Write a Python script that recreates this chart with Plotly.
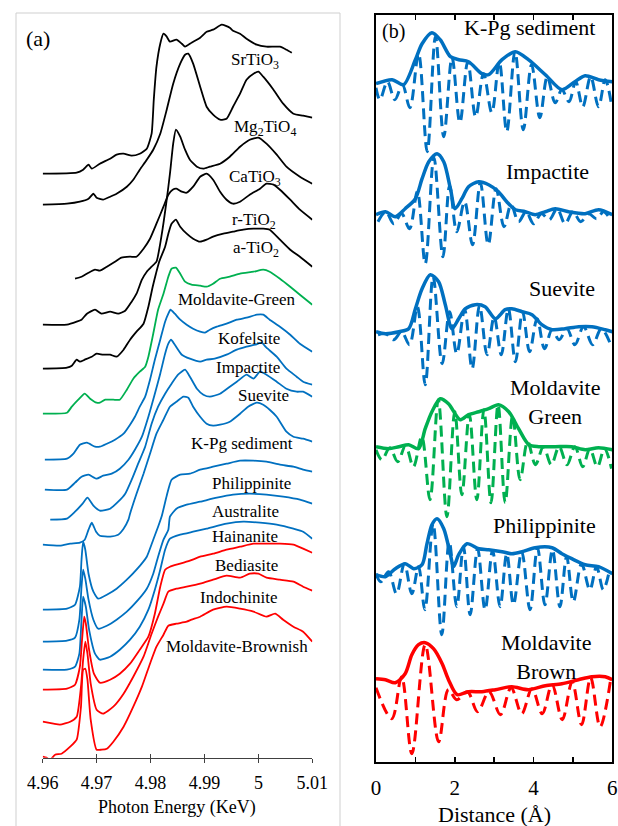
import plotly.graph_objects as go

W, H = 618, 826
SERIF = "Liberation Serif, Times New Roman, serif"
BLACK, GREEN, BLUE, RED = "#000000", "#00b050", "#0070c0", "#ff0000"

# ---------------- Panel (a): Ti K-edge XANES (normalized, offset) ----------------
E_srtio3 = [4.9600,4.9663,4.9675,4.9685,4.9691,4.9706,4.9725,4.9737,4.9750,4.9765,4.9780,4.9793,4.9802,4.9806,4.9811,4.9818,4.9824,4.9830,4.9836,4.9848,4.9858,4.9864,4.9876,4.9892,4.9904,4.9916,4.9932,4.9947,4.9953,4.9966,4.9978,4.9997,5.0015,5.0040,5.0052,5.0062]
A_srtio3 = [5.84,5.85,5.88,5.93,5.89,5.94,5.99,6.03,6.04,6.02,6.04,6.09,6.24,6.58,6.91,7.14,7.24,7.21,7.16,7.18,7.14,7.11,7.15,7.20,7.26,7.28,7.33,7.30,7.27,7.24,7.19,7.13,7.11,7.11,7.08,7.05]

E_mg2tio4 = [4.9600,4.9645,4.9669,4.9685,4.9694,4.9700,4.9712,4.9725,4.9737,4.9756,4.9768,4.9780,4.9793,4.9805,4.9818,4.9830,4.9842,4.9855,4.9864,4.9870,4.9879,4.9892,4.9904,4.9916,4.9929,4.9941,4.9953,4.9966,4.9978,4.9991,5.0000,5.0009,5.0028,5.0046,5.0065,5.0083,5.0100]
A_mg2tio4 = [5.53,5.54,5.56,5.59,5.64,5.60,5.58,5.61,5.64,5.71,5.78,5.88,5.98,6.08,6.24,6.48,6.74,6.94,7.03,7.04,6.94,6.71,6.51,6.43,6.38,6.39,6.51,6.64,6.78,6.84,6.86,6.81,6.68,6.54,6.44,6.42,6.40]

E_catio3 = [4.9600,4.9645,4.9663,4.9672,4.9682,4.9697,4.9709,4.9725,4.9740,4.9753,4.9765,4.9774,4.9784,4.9793,4.9802,4.9811,4.9821,4.9830,4.9836,4.9842,4.9847,4.9855,4.9864,4.9873,4.9886,4.9898,4.9910,4.9929,4.9947,4.9966,4.9984,5.0000,5.0015,5.0034,5.0052,5.0077,5.0100]
A_catio3 = [4.33,4.33,4.36,4.38,4.44,4.48,4.44,4.46,4.44,4.47,4.56,4.64,4.78,4.86,4.91,4.96,5.24,5.58,5.84,6.14,6.28,6.21,6.08,5.98,5.91,5.89,5.91,5.94,6.01,6.11,6.18,6.20,6.14,6.03,5.91,5.81,5.74]

E_rtio2 = [4.9660,4.9672,4.9685,4.9697,4.9706,4.9719,4.9734,4.9746,4.9762,4.9774,4.9787,4.9799,4.9811,4.9824,4.9833,4.9841,4.9848,4.9858,4.9867,4.9879,4.9892,4.9904,4.9916,4.9929,4.9941,4.9953,4.9966,4.9984,5.0003,5.0015,5.0028,5.0040,5.0059,5.0077,5.0100]
A_rtio2 = [4.79,4.81,4.85,4.88,4.87,4.91,4.96,5.00,5.01,5.01,5.09,5.19,5.34,5.51,5.63,5.68,5.69,5.66,5.65,5.71,5.81,5.84,5.78,5.66,5.58,5.54,5.56,5.63,5.69,5.74,5.73,5.68,5.58,5.48,5.38]

E_atio2 = [4.9600,4.9645,4.9654,4.9663,4.9669,4.9678,4.9691,4.9700,4.9712,4.9725,4.9737,4.9750,4.9762,4.9774,4.9787,4.9796,4.9804,4.9810,4.9816,4.9827,4.9833,4.9839,4.9847,4.9855,4.9867,4.9879,4.9892,4.9904,4.9916,4.9935,4.9953,4.9972,4.9991,5.0009,5.0021,5.0040,5.0059,5.0077,5.0100]
A_atio2 = [3.89,3.90,3.92,3.98,3.96,3.98,4.01,4.04,4.03,4.03,4.01,4.08,4.18,4.26,4.34,4.51,4.71,4.84,4.96,5.11,5.24,5.34,5.38,5.31,5.24,5.19,5.16,5.18,5.21,5.24,5.26,5.28,5.29,5.29,5.28,5.18,5.08,5.01,4.91]

E_mold_green = [4.9600,4.9645,4.9654,4.9666,4.9678,4.9688,4.9700,4.9706,4.9716,4.9731,4.9743,4.9756,4.9768,4.9780,4.9790,4.9796,4.9805,4.9814,4.9824,4.9833,4.9839,4.9847,4.9855,4.9864,4.9876,4.9892,4.9904,4.9916,4.9929,4.9947,4.9966,4.9991,5.0009,5.0021,5.0040,5.0059,5.0077,5.0100]
A_mold_green = [3.44,3.45,3.51,3.58,3.64,3.59,3.55,3.55,3.58,3.58,3.58,3.68,3.79,3.86,3.91,4.01,4.24,4.48,4.64,4.81,4.89,4.90,4.84,4.76,4.73,4.72,4.71,4.74,4.79,4.81,4.84,4.86,4.88,4.86,4.79,4.71,4.63,4.53]

E_kofelsite = [4.9604,4.9645,4.9657,4.9669,4.9682,4.9697,4.9706,4.9719,4.9734,4.9750,4.9762,4.9771,4.9780,4.9790,4.9799,4.9808,4.9818,4.9827,4.9833,4.9837,4.9845,4.9855,4.9867,4.9879,4.9892,4.9901,4.9910,4.9923,4.9941,4.9960,4.9978,4.9997,5.0009,5.0021,5.0040,5.0059,5.0077,5.0100]
A_kofelsite = [2.98,2.99,3.04,3.13,3.15,3.11,3.11,3.14,3.18,3.24,3.33,3.41,3.51,3.61,3.78,3.98,4.18,4.36,4.44,4.48,4.44,4.38,4.33,4.29,4.26,4.25,4.28,4.31,4.34,4.38,4.40,4.43,4.43,4.38,4.31,4.23,4.14,4.06]

E_impactite = [4.9604,4.9645,4.9660,4.9672,4.9685,4.9700,4.9712,4.9728,4.9743,4.9759,4.9771,4.9784,4.9796,4.9808,4.9818,4.9827,4.9833,4.9838,4.9845,4.9858,4.9873,4.9892,4.9904,4.9919,4.9941,4.9960,4.9978,4.9994,5.0006,5.0015,5.0034,5.0052,5.0071,5.0083,5.0100]
A_impactite = [2.68,2.68,2.75,2.81,2.83,2.79,2.82,2.84,2.89,2.98,3.08,3.21,3.41,3.64,3.84,4.04,4.14,4.18,4.13,4.03,3.99,3.96,3.98,3.99,4.03,4.08,4.11,4.13,4.15,4.10,4.01,3.89,3.81,3.76,3.73]

E_suevite = [4.9614,4.9645,4.9660,4.9674,4.9683,4.9694,4.9706,4.9725,4.9740,4.9753,4.9765,4.9777,4.9790,4.9802,4.9814,4.9827,4.9839,4.9851,4.9864,4.9873,4.9886,4.9898,4.9910,4.9929,4.9947,4.9960,4.9978,4.9991,5.0003,5.0015,5.0034,5.0052,5.0071,5.0083,5.0100]
A_suevite = [2.38,2.39,2.46,2.54,2.60,2.52,2.47,2.49,2.56,2.64,2.78,2.94,3.11,3.34,3.51,3.64,3.74,3.83,3.88,3.81,3.69,3.63,3.61,3.64,3.71,3.76,3.83,3.79,3.86,3.83,3.76,3.69,3.66,3.66,3.61]

E_kpg = [4.9600,4.9632,4.9651,4.9669,4.9678,4.9685,4.9691,4.9699,4.9706,4.9725,4.9740,4.9750,4.9759,4.9762,4.9774,4.9787,4.9799,4.9811,4.9824,4.9836,4.9848,4.9861,4.9870,4.9879,4.9892,4.9904,4.9916,4.9929,4.9947,4.9966,4.9981,4.9997,5.0009,5.0021,5.0034,5.0052,5.0065,5.0083,5.0100]
A_kpg = [2.13,2.12,2.14,2.15,2.18,2.28,2.35,2.26,2.22,2.21,2.23,2.29,2.38,2.44,2.64,2.84,3.04,3.24,3.38,3.51,3.56,3.61,3.60,3.51,3.41,3.34,3.32,3.33,3.36,3.44,3.51,3.55,3.53,3.48,3.41,3.26,3.21,3.19,3.16]

E_philippinite = [4.9600,4.9645,4.9660,4.9669,4.9672,4.9675,4.9679,4.9685,4.9694,4.9703,4.9719,4.9737,4.9756,4.9774,4.9793,4.9805,4.9814,4.9821,4.9830,4.9839,4.9855,4.9873,4.9892,4.9916,4.9941,4.9966,4.9991,5.0015,5.0040,5.0065,5.0083,5.0100]
A_philippinite = [1.48,1.49,1.53,1.71,1.98,2.16,2.08,1.84,1.66,1.59,1.63,1.69,1.78,1.88,2.01,2.18,2.31,2.42,2.62,2.78,2.83,2.84,2.88,2.91,2.94,2.97,2.97,2.96,2.93,2.91,2.88,2.86]

E_australite = [4.9600,4.9645,4.9660,4.9668,4.9672,4.9675,4.9679,4.9685,4.9694,4.9703,4.9719,4.9737,4.9756,4.9774,4.9793,4.9805,4.9814,4.9824,4.9833,4.9836,4.9848,4.9867,4.9892,4.9923,4.9953,4.9984,5.0015,5.0046,5.0077,5.0100]
A_australite = [1.16,1.17,1.20,1.38,1.71,1.88,1.79,1.58,1.38,1.29,1.32,1.38,1.46,1.56,1.69,1.84,2.01,2.18,2.28,2.41,2.49,2.53,2.56,2.60,2.63,2.64,2.63,2.61,2.58,2.54]

E_hainanite = [4.9600,4.9645,4.9660,4.9668,4.9672,4.9675,4.9680,4.9686,4.9697,4.9706,4.9725,4.9743,4.9762,4.9780,4.9796,4.9808,4.9818,4.9827,4.9836,4.9855,4.9879,4.9904,4.9941,4.9972,5.0003,5.0034,5.0065,5.0083,5.0100]
A_hainanite = [0.88,0.88,0.91,1.04,1.38,1.61,1.51,1.28,1.04,0.98,1.01,1.08,1.18,1.31,1.48,1.68,1.88,2.08,2.19,2.23,2.26,2.29,2.34,2.36,2.35,2.33,2.29,2.26,2.19]

E_bediasite = [4.9600,4.9645,4.9660,4.9669,4.9673,4.9677,4.9680,4.9686,4.9695,4.9706,4.9725,4.9743,4.9762,4.9780,4.9796,4.9808,4.9818,4.9827,4.9836,4.9855,4.9873,4.9892,4.9916,4.9941,4.9966,4.9991,5.0015,5.0040,5.0065,5.0083,5.0100]
A_bediasite = [0.68,0.69,0.73,0.91,1.18,1.41,1.34,1.08,0.84,0.75,0.78,0.84,0.94,1.08,1.21,1.44,1.71,1.88,1.91,1.94,1.97,2.01,2.04,2.08,2.11,2.14,2.14,2.14,2.13,2.09,2.05]

E_indochinite = [4.9600,4.9620,4.9632,4.9651,4.9663,4.9671,4.9675,4.9679,4.9683,4.9689,4.9700,4.9712,4.9731,4.9750,4.9768,4.9787,4.9802,4.9814,4.9824,4.9833,4.9848,4.9867,4.9892,4.9916,4.9941,4.9966,4.9984,5.0000,5.0015,5.0040,5.0065,5.0083,5.0100]
A_indochinite = [0.36,0.34,0.33,0.36,0.41,0.71,0.98,1.16,1.04,0.74,0.48,0.44,0.51,0.64,0.81,1.01,1.24,1.41,1.54,1.66,1.69,1.71,1.74,1.78,1.82,1.80,1.84,1.84,1.80,1.78,1.76,1.71,1.67]

E_mold_brown = [4.9600,4.9607,4.9614,4.9623,4.9635,4.9651,4.9663,4.9671,4.9675,4.9679,4.9683,4.9689,4.9700,4.9709,4.9719,4.9731,4.9750,4.9768,4.9784,4.9799,4.9811,4.9824,4.9833,4.9848,4.9867,4.9876,4.9892,4.9916,4.9941,4.9966,4.9991,5.0015,5.0031,5.0046,5.0065,5.0083,5.0100]
A_mold_brown = [0.01,0.00,-0.02,0.03,0.04,0.11,0.18,0.51,0.88,0.89,0.78,0.38,0.08,0.08,0.09,0.16,0.31,0.51,0.71,0.94,1.11,1.23,1.32,1.34,1.36,1.38,1.41,1.48,1.51,1.49,1.46,1.41,1.44,1.38,1.31,1.26,1.16]

E_ticks = [4.96, 4.97, 4.98, 4.99, 5.00, 5.01]
E_ticklabels = ["4.96", "4.97", "4.98", "4.99", "5", "5.01"]

# ---------------- Panel (b): Fourier transforms (magnitude solid, real part dashed) ----------------
R_kpg = [0,0.41,0.70,1.0,1.17,1.42,1.63,1.89,2.10,2.35,2.69,2.86,3.20,3.54,3.87,4.30,4.72,5.05,5.31,5.65,6.0]
M_kpg = [6.78,6.82,6.77,7.02,7.18,7.29,7.22,7.05,7.02,7.00,6.88,6.87,7.02,7.10,7.02,6.87,6.72,6.80,6.86,6.82,6.80]
Rr_kpg = [0.00,0.10,0.29,0.48,0.67,0.86,1.08,1.30,1.51,1.72,1.93,2.13,2.33,2.53,2.73,2.94,3.13,3.32,3.53,3.74,3.95,4.16,4.35,4.55,4.72,4.90,5.07,5.25,5.45,5.65,5.82,5.98]
Re_kpg = [6.74,6.62,6.80,6.62,6.77,6.54,7.08,6.10,7.25,6.25,7.04,6.39,7.00,6.45,6.88,6.49,7.00,6.30,7.10,6.32,6.97,6.44,6.85,6.59,6.72,6.60,6.80,6.55,6.85,6.55,6.82,6.57]

R_impactite = [0,0.24,0.49,0.74,1.0,1.17,1.34,1.55,1.72,1.89,2.01,2.18,2.35,2.61,2.86,3.11,3.32,3.54,3.79,4.04,4.30,4.55,4.89,5.31,5.65,6.0]
M_impactite = [5.47,5.50,5.45,5.53,5.63,5.83,6.00,6.08,6.00,5.73,5.53,5.63,5.75,5.80,5.77,5.70,5.60,5.52,5.50,5.47,5.50,5.53,5.50,5.48,5.52,5.47]
Rr_impactite = [0.05,0.25,0.45,0.65,0.85,1.05,1.25,1.47,1.70,1.87,2.05,2.25,2.45,2.65,2.85,3.05,3.25,3.43,3.62,3.81,4.00,4.20,4.40,4.60,4.80,5.00,5.20,5.40,5.60,5.78,5.95]
Re_impactite = [5.40,5.50,5.38,5.48,5.33,5.70,4.98,6.04,5.05,5.76,5.30,5.60,5.17,5.79,5.17,5.73,5.35,5.57,5.40,5.50,5.38,5.48,5.42,5.53,5.38,5.50,5.40,5.48,5.43,5.50,5.42]

R_suevite = [0,0.24,0.58,0.83,1.0,1.17,1.38,1.59,1.76,1.93,2.10,2.27,2.52,2.77,3.03,3.28,3.45,3.71,3.96,4.21,4.47,4.80,5.14,5.48,5.82,6.0]
M_suevite = [4.30,4.28,4.30,4.33,4.53,4.73,4.87,4.80,4.57,4.33,4.43,4.53,4.57,4.55,4.43,4.52,4.53,4.50,4.47,4.37,4.32,4.33,4.35,4.35,4.32,4.30]
Rr_suevite = [0.05,0.25,0.45,0.65,0.85,1.05,1.25,1.45,1.68,1.87,2.05,2.25,2.44,2.63,2.82,3.00,3.18,3.36,3.54,3.72,3.90,4.09,4.28,4.47,4.65,4.85,5.05,5.27,5.50,5.72,5.95]
Re_suevite = [4.27,4.28,4.22,4.30,4.17,4.55,3.77,4.85,3.98,4.50,4.08,4.52,3.93,4.56,4.07,4.45,4.07,4.53,4.00,4.50,4.10,4.43,4.13,4.32,4.22,4.33,4.17,4.35,4.17,4.33,4.18]

R_mold_green = [0,0.32,0.58,0.83,1.08,1.25,1.42,1.63,1.84,2.14,2.35,2.61,2.86,3.11,3.37,3.62,3.88,4.13,4.55,4.97,5.31,5.65,6.0]
M_mold_green = [3.15,3.13,3.15,3.17,3.13,3.33,3.50,3.63,3.58,3.42,3.47,3.50,3.53,3.57,3.50,3.33,3.17,3.15,3.15,3.15,3.12,3.14,3.12]
Rr_mold_green = [0.00,0.15,0.35,0.55,0.75,0.95,1.16,1.37,1.58,1.80,2.00,2.18,2.37,2.56,2.74,2.92,3.10,3.28,3.47,3.66,3.85,4.05,4.25,4.45,4.65,4.85,5.05,5.25,5.43,5.62,5.80,5.98]
Re_mold_green = [3.12,3.02,3.14,3.00,3.16,2.95,3.25,2.62,3.62,2.45,3.50,2.67,3.47,2.62,3.52,2.59,3.57,2.59,3.46,2.82,3.20,2.97,3.15,2.97,3.15,2.97,3.15,2.95,3.13,2.95,3.13,2.93]

R_philippinite = [0,0.24,0.49,0.74,0.96,1.17,1.29,1.42,1.55,1.72,1.89,1.97,2.10,2.31,2.61,2.86,3.20,3.45,3.71,4.04,4.47,4.72,4.97,5.31,5.65,6.0]
M_philippinite = [1.87,1.85,1.93,1.98,1.93,1.97,2.17,2.37,2.43,2.33,2.07,1.95,2.07,2.18,2.13,2.12,2.10,2.08,2.10,2.14,2.14,2.08,2.03,1.97,1.95,1.88]
Rr_philippinite = [0.00,0.12,0.32,0.52,0.72,0.91,1.08,1.24,1.45,1.67,1.86,2.05,2.22,2.39,2.58,2.77,2.96,3.15,3.32,3.49,3.70,3.91,4.10,4.29,4.48,4.67,4.84,5.01,5.22,5.43,5.60,5.77,5.92]
Re_philippinite = [1.88,1.80,1.90,1.68,1.98,1.68,1.95,1.52,2.38,1.27,2.20,1.55,2.15,1.47,2.13,1.52,2.11,1.55,2.08,1.57,2.10,1.52,2.14,1.57,2.12,1.55,2.05,1.60,1.98,1.72,1.95,1.72,1.90]

R_mold_brown = [0,0.24,0.49,0.74,0.91,1.08,1.25,1.46,1.68,1.84,2.06,2.35,2.69,3.03,3.45,3.87,4.30,4.72,5.14,5.48,5.82,6.0]
M_mold_brown = [0.83,0.82,0.79,0.88,1.07,1.17,1.19,1.13,0.98,0.82,0.67,0.70,0.70,0.72,0.75,0.72,0.76,0.78,0.82,0.85,0.85,0.82]
Rr_mold_brown = [0.00,0.40,0.65,0.91,1.25,1.59,1.84,2.05,2.32,2.58,2.87,3.16,3.43,3.70,3.96,4.22,4.47,4.73,4.98,5.22,5.45,5.69,5.95]
Re_mold_brown = [0.74,0.43,0.85,0.08,1.17,0.20,0.72,0.62,0.70,0.50,0.70,0.47,0.74,0.48,0.73,0.48,0.77,0.42,0.80,0.37,0.84,0.35,0.80]

R_ticks = [0, 2, 4, 6]
R_ticklabels = ["0", "2", "4", "6"]

# ---------------- figure ----------------
def P(px, py):
    """pixel position -> paper coordinates"""
    return px / W, 1 - py / H

fig = go.Figure()

panel_a = [
    (E_srtio3, A_srtio3, BLACK), (E_mg2tio4, A_mg2tio4, BLACK), (E_catio3, A_catio3, BLACK),
    (E_rtio2, A_rtio2, BLACK), (E_atio2, A_atio2, BLACK), (E_mold_green, A_mold_green, GREEN),
    (E_kofelsite, A_kofelsite, BLUE), (E_impactite, A_impactite, BLUE), (E_suevite, A_suevite, BLUE),
    (E_kpg, A_kpg, BLUE), (E_philippinite, A_philippinite, BLUE), (E_australite, A_australite, BLUE),
    (E_hainanite, A_hainanite, BLUE), (E_bediasite, A_bediasite, RED), (E_indochinite, A_indochinite, RED),
    (E_mold_brown, A_mold_brown, RED),
]
for ex, ay, c in panel_a:
    fig.add_trace(go.Scatter(x=ex, y=ay, mode="lines", xaxis="x", yaxis="y",
                             line=dict(color=c, width=1.8, shape="spline", smoothing=0.5),
                             showlegend=False, hoverinfo="skip"))

panel_b = [
    (R_kpg, M_kpg, Rr_kpg, Re_kpg, BLUE),
    (R_impactite, M_impactite, Rr_impactite, Re_impactite, BLUE),
    (R_suevite, M_suevite, Rr_suevite, Re_suevite, BLUE),
    (R_mold_green, M_mold_green, Rr_mold_green, Re_mold_green, GREEN),
    (R_philippinite, M_philippinite, Rr_philippinite, Re_philippinite, BLUE),
    (R_mold_brown, M_mold_brown, Rr_mold_brown, Re_mold_brown, RED),
]
for r, m, rr, re, c in panel_b:
    fig.add_trace(go.Scatter(x=rr, y=re, mode="lines", xaxis="x2", yaxis="y2",
                             line=dict(color=c, width=3, dash="11px,6px", shape="spline", smoothing=1),
                             showlegend=False, hoverinfo="skip"))
    fig.add_trace(go.Scatter(x=r, y=m, mode="lines", xaxis="x2", yaxis="y2",
                             line=dict(color=c, width=3.5, shape="spline", smoothing=0.8),
                             showlegend=False, hoverinfo="skip"))

# empty trace to host the crossing-tick overlay axis of panel (a)
fig.add_trace(go.Scatter(x=[], y=[], xaxis="x3", yaxis="y", showlegend=False, hoverinfo="skip"))

xa_dom = [P(42.7, 0)[0], P(312.3, 0)[0]]
ya_dom = [P(0, 757.7)[1], P(0, 20)[1]]
xb_dom = [P(376, 0)[0], P(612.3, 0)[0]]
yb_dom = [P(0, 761.7)[1], P(0, 15)[1]]

fig.update_layout(
    template="none",
    width=W, height=H, autosize=False,
    margin=dict(l=0, r=0, t=0, b=0, pad=0),
    paper_bgcolor="white", plot_bgcolor="rgba(0,0,0,0)",
    font=dict(family=SERIF, color="#000000"),
    showlegend=False,
    xaxis=dict(domain=xa_dom, range=[4.96, 5.01], anchor="y", automargin=False,
               tickmode="array", tickvals=E_ticks, ticktext=E_ticklabels,
               ticks="outside", ticklen=4, tickwidth=1.2, ticklabelstandoff=4,
               tickcolor="#404040", showline=True, linecolor="#404040", linewidth=1.5,
               showgrid=False, zeroline=False, tickfont=dict(size=18, family=SERIF, color="#000")),
    xaxis3=dict(domain=xa_dom, range=[4.96, 5.01], anchor="y", overlaying="x", automargin=False,
                tickmode="array", tickvals=E_ticks, ticks="inside", ticklen=4, tickwidth=1.2,
                tickcolor="#404040", showticklabels=False, showline=False, showgrid=False, zeroline=False),
    yaxis=dict(domain=ya_dom, range=[0, 7.377], anchor="x", visible=False, automargin=False),
    xaxis2=dict(domain=xb_dom, range=[0, 6], anchor="y2", automargin=False,
                tickmode="array", tickvals=R_ticks, ticktext=R_ticklabels,
                ticks="inside", ticklen=5, tickwidth=1.5, ticklabelstandoff=6,
                minor=dict(ticks="inside", tickmode="linear", tick0=0, dtick=1, ticklen=5,
                           tickwidth=1.5, tickcolor="#000", showgrid=False),
                tickcolor="#000", showline=True, linecolor="#000", linewidth=2, mirror="ticks",
                showgrid=False, zeroline=False, tickfont=dict(size=21, family=SERIF, color="#000")),
    yaxis2=dict(domain=yb_dom, range=[0, 7.467], anchor="x2", automargin=False,
                showline=True, linecolor="#000", linewidth=2, mirror=True,
                showticklabels=False, ticks="", showgrid=False, zeroline=False),
)

# light grey frame around panel (a)
fig.add_shape(type="rect", xref="paper", yref="paper",
              x0=P(16, 0)[0], x1=P(340, 0)[0], y0=P(0, 840)[1], y1=P(0, 13)[1],
              line=dict(color="#cfcfcf", width=1), fillcolor="rgba(0,0,0,0)", layer="below")

def label(text, px, py, size):
    x, y = P(px, py)
    fig.add_annotation(text=text, x=x, y=y, xref="paper", yref="paper", showarrow=False,
                       xanchor="center", yanchor="middle",
                       font=dict(size=size, family=SERIF, color="#000"))

label("(a)", 38, 38, 22)
label("(b)", 393, 32, 20)

labels_a = [
    ("SrTiO<sub>3</sub>", 255, 61), ("Mg<sub>2</sub>TiO<sub>4</sub>", 265, 128),
    ("CaTiO<sub>3</sub>", 255, 178), ("r-TiO<sub>2</sub>", 254, 221), ("a-TiO<sub>2</sub>", 256, 249),
    ("Moldavite-Green", 237, 299), ("Kofelsite", 249, 339), ("Impactite", 248, 367),
    ("Suevite", 263, 395), ("K-Pg sediment", 242, 443), ("Philippinite", 251, 483),
    ("Australite", 245, 511), ("Hainanite", 245, 536), ("Bediasite", 246, 565),
    ("Indochinite", 238, 597), ("Moldavite-Brownish", 237, 646),
]
for t, px, py in labels_a:
    label(t, px, py, 17)

labels_b = [
    ("K-Pg sediment", 529, 27), ("Impactite", 547, 172), ("Suevite", 562, 288),
    ("Moldavite<br>Green", 555, 402), ("Philippinite", 544, 525), ("Moldavite<br>Brown", 546, 657),
]
for t, px, py in labels_b:
    label(t, px, py, 22)

label("Photon Energy (KeV)", 177, 807, 18)
label("Distance (Å)", 494, 814, 22)

fig.write_html("out.html",
               config={"displayModeBar": False, "staticPlot": True},
               post_script="document.body.style.margin='0px';document.body.style.overflow='hidden';")
